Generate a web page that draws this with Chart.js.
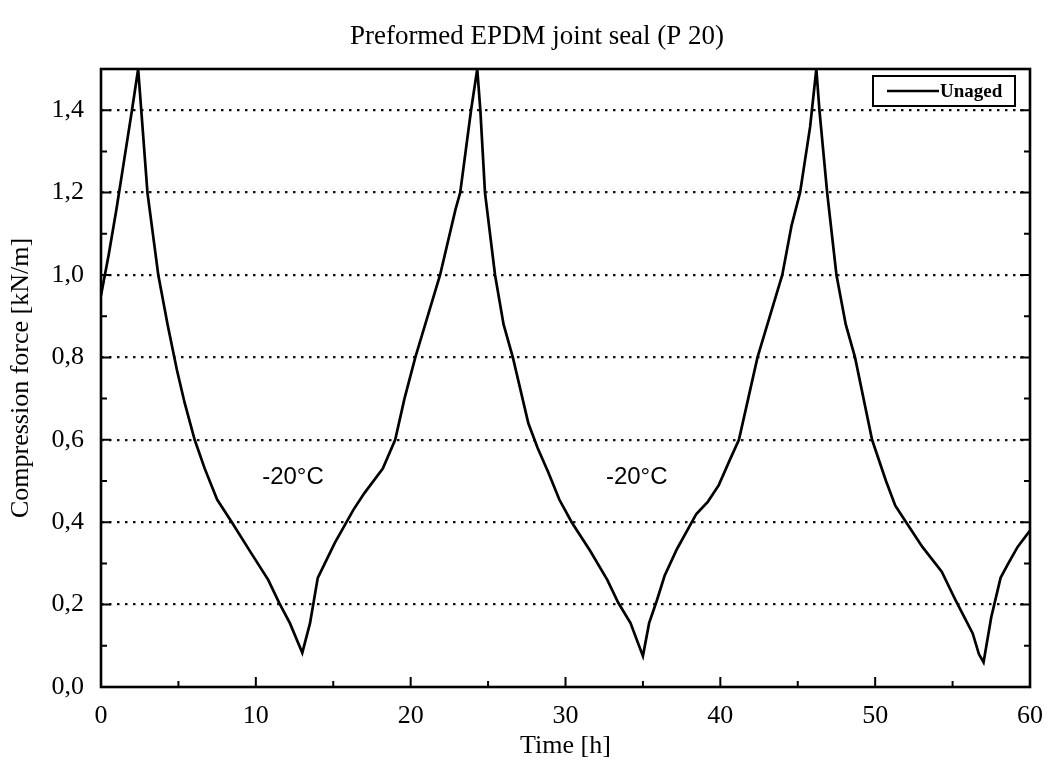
<!DOCTYPE html>
<html>
<head>
<meta charset="utf-8">
<script src="https://cdn.jsdelivr.net/npm/chart.js@4"></script>
<style>
  html, body { margin: 0; padding: 0; background: #fff; }
  #wrap { width: 1049px; height: 765px; }
</style>
</head>
<body>
<div id="wrap"><canvas id="c" width="1049" height="765"></canvas></div>
<script>
// ---- data ----
const seriesLabel = 'Unaged';
const timeH = [
  0, 0.5, 1.0, 1.5, 2.0, 2.4, 2.6, 3.0, 3.7, 4.3, 4.9, 5.4, 6.05, 6.7, 7.5, 8.45, 9.7, 10.8, 11.5, 12.2, 13.0,
  13.5, 14.0, 15.1, 16.3, 17.0, 18.2, 19.0, 19.6, 20.3, 21.1, 21.9, 22.9, 23.2, 23.9, 24.3,
  24.5, 24.8, 25.45, 26.0, 26.6, 27.6, 28.2, 28.9, 29.6, 30.4, 31.6, 32.7, 33.4, 34.2, 35.0,
  35.4, 35.9, 36.4, 37.2, 38.45, 39.2, 39.9, 40.6, 41.2, 41.8, 42.4, 43.2, 44.0, 44.6, 45.15, 45.8, 46.2,
  46.4, 46.9, 47.5, 48.1, 48.7, 49.8, 50.7, 51.3, 52.0, 53.05, 54.3, 55.2, 56.3, 56.7, 57.0,
  57.5, 58.1, 58.6, 59.2, 60.0
];
const forceKNm = [
  0.95, 1.05, 1.16, 1.28, 1.40, 1.50, 1.40, 1.20, 1.00, 0.88, 0.77, 0.69, 0.60, 0.53, 0.455, 0.40, 0.325, 0.26, 0.205, 0.155, 0.083,
  0.155, 0.265, 0.35, 0.43, 0.47, 0.53, 0.60, 0.70, 0.80, 0.90, 1.00, 1.16, 1.20, 1.40, 1.50,
  1.40, 1.20, 1.00, 0.88, 0.80, 0.64, 0.58, 0.52, 0.455, 0.40, 0.33, 0.26, 0.205, 0.155, 0.075,
  0.155, 0.21, 0.27, 0.335, 0.42, 0.45, 0.49, 0.55, 0.60, 0.70, 0.80, 0.90, 1.00, 1.12, 1.20, 1.36, 1.50,
  1.40, 1.20, 1.00, 0.88, 0.80, 0.60, 0.50, 0.44, 0.40, 0.34, 0.28, 0.21, 0.13, 0.08, 0.06,
  0.17, 0.265, 0.30, 0.34, 0.38
];
const xTicks = [0, 10, 20, 30, 40, 50, 60];
const xMinorTicks = [5, 15, 25, 35, 45, 55];
const yTicks = [0, 0.2, 0.4, 0.6, 0.8, 1.0, 1.2, 1.4];
const yTickLabels = ['0,0', '0,2', '0,4', '0,6', '0,8', '1,0', '1,2', '1,4'];
const yMinorTicks = [0.1, 0.3, 0.5, 0.7, 0.9, 1.1, 1.3];
const noteText = ['-20°C', '-20°C'];
const noteX = [12.4, 34.6];
const noteY = [0.51, 0.51];
const chartTitle = 'Preformed EPDM joint seal (P 20)';
const xTitle = 'Time [h]';
const yTitle = 'Compression force [kN/m]';

const SERIF = '"Liberation Serif", "Times New Roman", serif';
const SANS = '"Liberation Sans", Arial, sans-serif';

const points = timeH.map((t, i) => ({ x: t, y: forceKNm[i] }));

const framePlugin = {
  id: 'frameTicksNotes',
  afterDraw(chart) {
    const { ctx, chartArea: a, scales } = chart;
    const xs = scales.x, ys = scales.y;
    ctx.save();
    ctx.strokeStyle = '#000';
    ctx.fillStyle = '#000';
    // title
    ctx.font = '27px ' + SERIF;
    ctx.textAlign = 'center';
    ctx.textBaseline = 'middle';
    ctx.fillText(chartTitle, 537, 37);
    // inward ticks
    ctx.lineWidth = 2;
    ctx.beginPath();
    xTicks.forEach(v => { const px = xs.getPixelForValue(v); ctx.moveTo(px, a.bottom); ctx.lineTo(px, a.bottom - 10); });
    xMinorTicks.forEach(v => { const px = xs.getPixelForValue(v); ctx.moveTo(px, a.bottom); ctx.lineTo(px, a.bottom - 6); });
    yTicks.forEach(v => {
      const py = ys.getPixelForValue(v);
      ctx.moveTo(a.left, py); ctx.lineTo(a.left + 10, py);
      ctx.moveTo(a.right, py); ctx.lineTo(a.right - 10, py);
    });
    yMinorTicks.forEach(v => {
      const py = ys.getPixelForValue(v);
      ctx.moveTo(a.left, py); ctx.lineTo(a.left + 6, py);
      ctx.moveTo(a.right, py); ctx.lineTo(a.right - 6, py);
    });
    ctx.stroke();
    // frame
    ctx.lineWidth = 2.6;
    ctx.strokeRect(a.left, a.top, a.right - a.left, a.bottom - a.top);
    // notes
    ctx.font = '24px ' + SANS;
    noteText.forEach((t, i) => {
      ctx.fillText(t, xs.getPixelForValue(noteX[i]), ys.getPixelForValue(noteY[i]));
    });
    // legend box (inside plot, top right)
    const bx = a.right - 157, by = a.top + 7, bw = 142, bh = 30;
    ctx.lineWidth = 2;
    ctx.strokeRect(bx, by, bw, bh);
    ctx.lineWidth = 2.5;
    ctx.beginPath();
    ctx.moveTo(bx + 14, by + bh / 2);
    ctx.lineTo(bx + 66, by + bh / 2);
    ctx.stroke();
    ctx.font = 'bold 19px ' + SERIF;
    ctx.textAlign = 'left';
    ctx.fillText(chart.data.datasets[0].label, bx + 67, by + bh / 2 + 1);
    ctx.restore();
  }
};

new Chart(document.getElementById('c'), {
  type: 'line',
  data: {
    datasets: [{
      label: seriesLabel,
      data: points,
      borderColor: '#000',
      borderWidth: 2.7,
      pointRadius: 0,
      tension: 0,
      fill: false
    }]
  },
  options: {
    responsive: false,
    animation: false,
    devicePixelRatio: 1,
    layout: { padding: { left: 0, right: 19, top: 69, bottom: 0 } },
    plugins: {
      legend: { display: false },
      tooltip: { enabled: false },
      title: { display: false }
    },
    scales: {
      x: {
        type: 'linear',
        min: 0, max: 60,
        afterFit(s) { s.height = 78; s.paddingLeft = 0; s.paddingRight = 0; },
        afterBuildTicks(s) { s.ticks = xTicks.map(v => ({ value: v })); },
        ticks: {
          color: '#000',
          font: { family: SERIF, size: 26 },
          padding: 14,
          maxRotation: 0,
          callback: v => String(v)
        },
        grid: { display: false, drawTicks: false },
        border: { display: false },
        title: {
          display: true, text: xTitle, color: '#000',
          font: { family: SERIF, size: 26 },
          padding: { top: 0, bottom: 3 }
        }
      },
      y: {
        type: 'linear',
        min: 0, max: 1.5,
        afterFit(s) { s.width = 101; s.paddingTop = 0; s.paddingBottom = 0; },
        afterBuildTicks(s) { s.ticks = yTicks.map(v => ({ value: v })); },
        ticks: {
          color: '#000',
          font: { family: SERIF, size: 26 },
          padding: 17,
          callback: (v) => { const i = yTicks.findIndex(t => Math.abs(t - v) < 1e-9); return i >= 0 ? yTickLabels[i] : ''; }
        },
        grid: {
          drawTicks: false,
          lineWidth: 2.3,
          color: ctx => (ctx.tick && ctx.tick.value === 0) ? 'rgba(0,0,0,0)' : '#111'
        },
        border: { display: false, dash: [2.5, 5.5] },
        title: {
          display: true, text: yTitle, color: '#000',
          font: { family: SERIF, size: 26 },
          padding: { top: 6, bottom: 0 }
        }
      }
    }
  },
  plugins: [framePlugin]
});
</script>
</body>
</html>
